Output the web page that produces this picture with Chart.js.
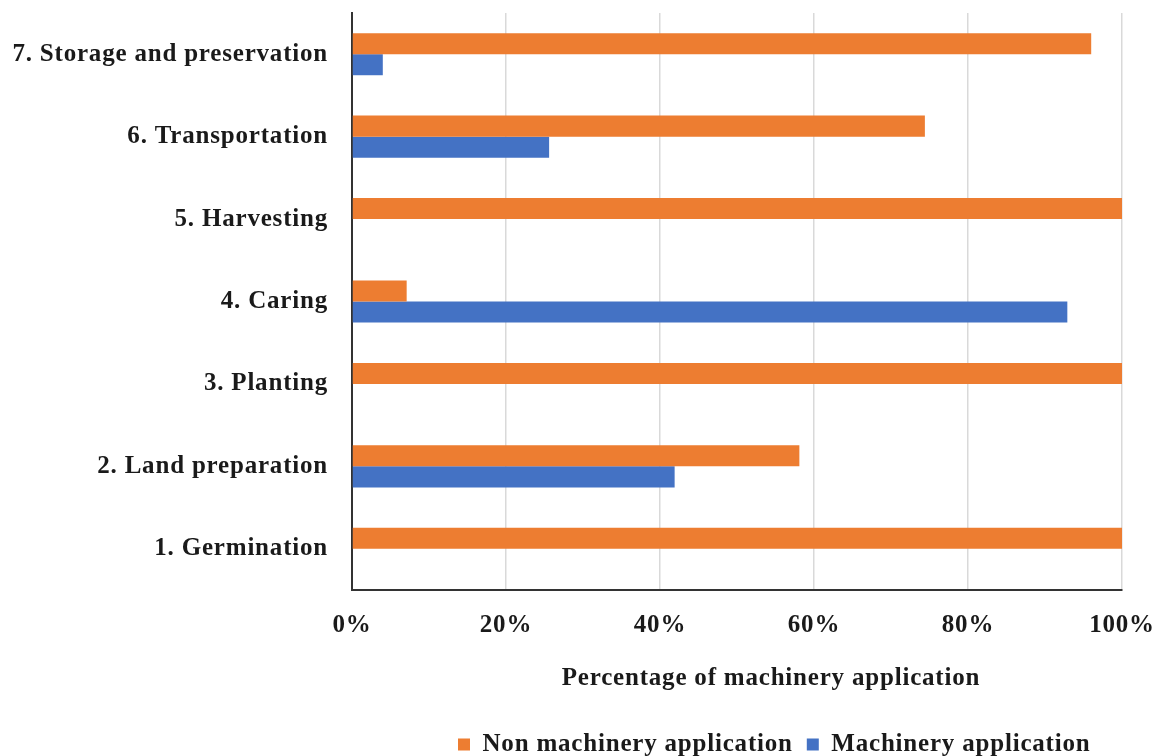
<!DOCTYPE html>
<html>
<head>
<meta charset="utf-8">
<script src="https://cdn.jsdelivr.net/npm/chart.js@4.4.0/dist/chart.umd.min.js"></script>
<style>
  html, body { margin: 0; padding: 0; background: #fff; }
  #wrap { width: 1159px; height: 756px; }
</style>
</head>
<body>
<div id="wrap"><canvas id="myChart" width="1159" height="756"></canvas></div>
<script>
    // stages of the rice production chain, bottom to top
    var stages = [
        "1. Germination",
        "2. Land preparation",
        "3. Planting",
        "4. Caring",
        "5. Harvesting",
        "6. Transportation",
        "7. Storage and preservation"
    ];
    var nonMachinery = [100, 58.1, 100, 7.1, 100, 74.4, 96];
    var machinery = [0, 41.9, 0, 92.9, 0, 25.6, 4];
    var percentTicks = [0, 20, 40, 60, 80, 100];

    var seriesNames = ["Non machinery application", "Machinery application"];
    var xTitle = "Percentage of machinery application";

    var serif = "'Liberation Serif', 'Times New Roman', serif";
    var textColor = "#1a1a1a";
    var spacing = "0.8px";

    // spaced-out lettering, axis title and legend placement
    var layoutPlugin = {
        id: "axisTitle",
        beforeUpdate: function (chart) {
            chart.ctx.letterSpacing = spacing;
        },
        afterUpdate: function (chart) {
            // legend row starts under the axis title rather than canvas-centred
            var lg = chart.legend;
            var pad = lg.options.labels.padding;
            var row = lg.lineWidths[0];
            var startNow = (lg.left + pad + lg.right - row) / 2;
            var shift = 458 - startNow;
            lg.left += shift;
            lg.right += shift;
            lg.top += 11;
            lg.bottom += 11;
        },
        beforeDraw: function (chart) {
            chart.ctx.letterSpacing = spacing;
        },
        afterDraw: function (chart) {
            var ctx = chart.ctx;
            var area = chart.chartArea;
            ctx.save();
            ctx.letterSpacing = spacing;
            ctx.font = "bold 25px " + serif;
            ctx.fillStyle = textColor;
            ctx.textAlign = "center";
            ctx.textBaseline = "middle";
            ctx.fillText(xTitle, (area.left + area.right) / 2 + 34, 679);
            ctx.restore();
        }
    };

    var chartData = {
        labels: stages,
        datasets: [
        {
            label: seriesNames[0],
            data: nonMachinery,
            backgroundColor: "#ED7D31"
        },
        {
            label: seriesNames[1],
            data: machinery,
            backgroundColor: "#4472C4"
        }
        ]
    };

    var chartOptions = {
        indexAxis: "y",
        responsive: false,
        devicePixelRatio: 1,
        animation: false,
        categoryPercentage: 0.51,
        barPercentage: 1.0,
        layout: {
            padding: { top: 13, right: 37, bottom: 0, left: 0 }
        },
        scales: {
            x: {
                min: 0,
                max: 100,
                afterBuildTicks: function (scale) {
                    scale.ticks = percentTicks.map(function (v) { return { value: v }; });
                },
                afterFit: function (scale) {
                    scale.height = 756 - 590 - scale.chart.legend.height;
                    scale.paddingLeft = 0;
                    scale.paddingRight = 0;
                },
                ticks: {
                    padding: 21,
                    color: textColor,
                    font: { family: serif, size: 25, weight: "bold" },
                    callback: function (v) { return v + "%"; }
                },
                grid: {
                    color: "#d9d9d9",
                    lineWidth: 1.5,
                    drawTicks: false
                },
                border: { color: "#333333", width: 2 }
            },
            y: {
                reverse: true,
                afterFit: function (scale) {
                    scale.width = 352;
                    scale.paddingTop = 0;
                    scale.paddingBottom = 0;
                },
                ticks: {
                    padding: 24,
                    color: textColor,
                    font: { family: serif, size: 25, weight: "bold" }
                },
                grid: { display: false, drawTicks: false },
                border: { color: "#333333", width: 2 }
            }
        },
        plugins: {
            legend: {
                position: "bottom",
                labels: {
                    boxWidth: 12,
                    boxHeight: 12,
                    padding: 14,
                    color: textColor,
                    font: { family: serif, size: 25, weight: "bold" }
                }
            },
            tooltip: { enabled: false }
        }
    };

    var ctx = document.getElementById("myChart").getContext("2d");
    var myChart = new Chart(ctx, {
        type: "bar",
        data: chartData,
        options: chartOptions,
        plugins: [layoutPlugin]
    });
</script>
</body>
</html>
